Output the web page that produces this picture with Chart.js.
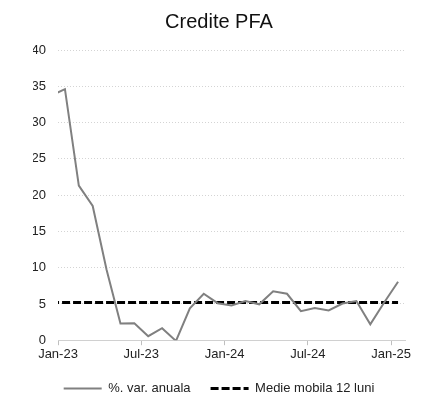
<!DOCTYPE html>
<html lang="ro">
<head>
<meta charset="UTF-8">
<title>Credite PFA</title>
<style>
  html,body{margin:0;padding:0;background:#fff}
  #wrap{width:421px;height:396px}
</style>
</head>
<body>
<div id="wrap"><canvas id="pfa" width="421" height="396"></canvas></div>

<script src="https://cdn.jsdelivr.net/npm/chart.js@4.4.1"></script>
<script>
/* ---------- data ---------- */
const months = ['Dec-22','Jan-23','Feb-23','Mar-23','Apr-23','May-23','Jun-23','Jul-23','Aug-23','Sep-23','Oct-23','Nov-23','Dec-23',
                'Jan-24','Feb-24','Mar-24','Apr-24','May-24','Jun-24','Jul-24','Aug-24','Sep-24','Oct-24','Nov-24','Dec-24','Jan-25'];
const varAnuala = [33.7, 34.6, 21.3, 18.5, 9.7, 2.3, 2.35, 0.55, 1.65, -0.1, 4.4, 6.4, 5.1,
                   4.8, 5.4, 4.95, 6.75, 6.4, 4.0, 4.45, 4.1, 5.05, 5.4, 2.2, 5.2, 8.05];
const medieMobila = [5.2, 5.2, 5.2, 5.2, 5.2, 5.2, 5.2, 5.2, 5.2, 5.2, 5.2, 5.2, 5.2,
                     5.2, 5.2, 5.2, 5.2, 5.2, 5.2, 5.2, 5.2, 5.2, 5.2, 5.2, 5.2, 5.2];
const tickLabels = ['Jan-23','Jul-23','Jan-24','Jul-24','Jan-25'];
const tickMonths = ['Jan-23','Jul-23','Jan-24','Jul-24','Jan-25'];

/* month index on the axis: Jan-23 = 0, each point sits mid-month */
const firstTick = months.indexOf('Jan-23');
const monthPos = months.map((m, i) => i - firstTick + 0.5);
const tickPos  = tickMonths.map(m => months.indexOf(m) - firstTick);

const toXY = vals => vals.map((v, i) => ({x: monthPos[i], y: v}));

const FONT = "'Liberation Sans', Arial, sans-serif";
Chart.defaults.font.family = FONT;
Chart.defaults.color = '#222';

/* legend: keep the dataset's own line width / dash on the line sample */
const defaultLabels = Chart.defaults.plugins.legend.labels.generateLabels;
function lineLabels(chart){
  return defaultLabels(chart).map(item => {
    const ds = chart.data.datasets[item.datasetIndex];
    item.lineDash    = ds.borderDash || [];
    item.lineWidth   = ds.borderWidth;
    item.strokeStyle = ds.borderColor;
    return item;
  });
}

new Chart(document.getElementById('pfa'), {
  type: 'line',
  data: {
    datasets: [
      {
        label: '%. var. anuala',
        data: toXY(varAnuala),
        borderColor: '#808080',
        backgroundColor: '#808080',
        borderWidth: 2,
        pointRadius: 0,
        tension: 0
      },
      {
        label: 'Medie mobila 12 luni',
        data: toXY(medieMobila),
        borderColor: '#000',
        backgroundColor: '#000',
        borderWidth: 3,
        borderDash: [8, 3],
        pointRadius: 0,
        tension: 0
      }
    ]
  },
  options: {
    responsive: false,
    animation: false,
    layout: {padding: {left: 33, right: 16, top: 0, bottom: -9}},
    plugins: {
      title: {
        display: true,
        text: 'Credite PFA',
        color: '#111',
        font: {size: 20, weight: 'normal'},
        padding: {top: 10, bottom: 16}
      },
      legend: {
        position: 'bottom',
        labels: {
          usePointStyle: true,
          pointStyle: 'line',
          pointStyleWidth: 38,
          padding: 20,
          color: '#222',
          font: {size: 13},
          generateLabels: lineLabels
        }
      },
      tooltip: {enabled: false}
    },
    scales: {
      x: {
        type: 'linear',
        min: 0,
        max: 25,
        afterBuildTicks: s => { s.ticks = tickPos.map(v => ({value: v})); },
        afterFit: s => { s.height = 21.8; },
        ticks: {
          autoSkip: false,
          maxRotation: 0,
          padding: 1,
          font: {size: 13},
          callback: v => tickLabels[tickPos.indexOf(v)]
        },
        grid: {display: true, drawOnChartArea: false, drawTicks: true, tickLength: 5, color: '#bfbfbf'},
        border: {display: true, color: '#d0d0d0', width: 1}
      },
      y: {
        min: 0,
        max: 40,
        afterFit: s => { s.width = 25; },
        ticks: {stepSize: 5, padding: 12, font: {size: 13}},
        grid: {color: '#d4d4d4', lineWidth: 1, drawTicks: false},
        border: {display: false, dash: [1, 2]}
      }
    }
  }
});
</script>
</body>
</html>
